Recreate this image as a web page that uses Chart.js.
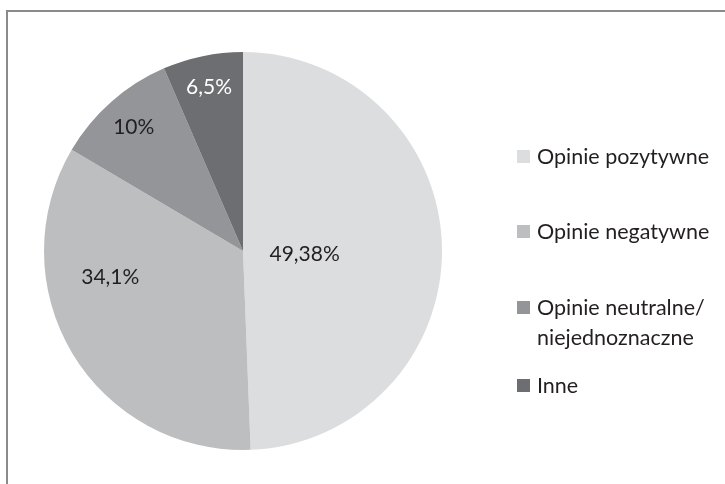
<!DOCTYPE html>
<html>
<head>
<meta charset="utf-8">
<script src="https://cdn.jsdelivr.net/npm/chart.js@4"></script>
<style>
  html, body { margin:0; padding:0; background:#fff; }
  #wrap { position:relative; width:725px; height:484px; overflow:hidden; background:#fff; }
  #frame { position:absolute; left:6px; top:10px; width:900px; height:700px; border:2px solid #8a8a8a; box-sizing:border-box; }
  canvas { position:absolute; left:0; top:0; }
  .leg { position:absolute; left:517px; font-family:Lato, "Open Sans", sans-serif; font-size:21.5px; color:#231f20; line-height:30px; }
  .leg .sw { position:absolute; left:0; width:13px; height:13px; }
  .leg .tx { position:absolute; left:20px; white-space:nowrap; }
</style>
</head>
<body>
<div id="wrap">
  <div id="frame"></div>
  <canvas id="c" width="725" height="484"></canvas>
  <div id="legend"></div>
</div>
<script>
const categories = ["Opinie pozytywne", "Opinie negatywne", "Opinie neutralne/\nniejednoznaczne", "Inne"];
const values = [49.38, 34.1, 10, 6.5];
const valueLabels = ["49,38%", "34,1%", "10%", "6,5%"];
const colors = ["#dcdddf", "#bcbec0", "#939598", "#6d6e71"];
const labelColors = ["#231f20", "#231f20", "#231f20", "#ffffff"];

// label placement: [radial fraction, angle offset in degrees]
const labelPlacement = [[0.31, 4], [0.68, 19.5], [0.83, 0], [0.84, 0]];
// legend row vertical centers
const legendY = [156, 231, 307, 385];

const labelPlugin = {
  id: 'sliceLabels',
  afterDatasetsDraw(chart) {
    const ctx = chart.ctx;
    const meta = chart.getDatasetMeta(0);
    ctx.save();
    ctx.font = '21px Lato, "Open Sans", sans-serif';
    ctx.textAlign = 'center';
    ctx.textBaseline = 'middle';
    meta.data.forEach((arc, i) => {
      const p = arc.getProps(['x','y','startAngle','endAngle','outerRadius'], true);
      const mid = (p.startAngle + p.endAngle) / 2 + labelPlacement[i][1] * Math.PI / 180;
      const r = p.outerRadius * labelPlacement[i][0];
      ctx.fillStyle = labelColors[i];
      ctx.fillText(valueLabels[i], p.x + Math.cos(mid) * r, p.y + Math.sin(mid) * r);
    });
    ctx.restore();
  }
};

new Chart(document.getElementById('c'), {
  type: 'pie',
  data: {
    labels: categories,
    datasets: [{ data: values, backgroundColor: colors, borderWidth: 0 }]
  },
  options: {
    responsive: false,
    animation: false,
    layout: { padding: { left: 44, right: 283, top: 52, bottom: 34 } },
    plugins: { legend: { display: false }, tooltip: { enabled: false } }
  },
  plugins: [labelPlugin]
});

const leg = document.getElementById('legend');
categories.forEach((c, i) => {
  const lines = c.split('\n');
  const d = document.createElement('div');
  d.className = 'leg';
  d.style.top = (legendY[i] - 15) + 'px';
  d.innerHTML = '<div class="sw" style="top:9px;background:' + colors[i] + '"></div>' +
    '<div class="tx">' + lines.join('<br>') + '</div>';
  leg.appendChild(d);
});
</script>
</body>
</html>
